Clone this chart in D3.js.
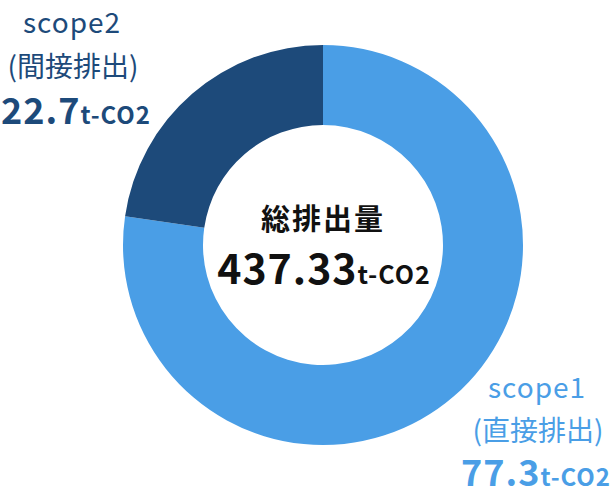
<!DOCTYPE html>
<html>
<head>
<meta charset="utf-8">
<script src="https://cdn.jsdelivr.net/npm/d3@7"></script>
<style>
  body { margin: 0; background: #fff; }
  text { font-family: "Noto Sans CJK JP", "Noto Sans", sans-serif; }
</style>
</head>
<body>
<svg id="chart" width="616" height="500"></svg>
<script>
// data
let scopeNames = ['scope1', 'scope2'];
let scopeKinds = ['(直接排出)', '(間接排出)'];
let scopeValues = [77.3, 22.7];
let scopeColors = ['#4a9ee6', '#1d4a7a'];
let totalLabel = '総排出量';
let totalValue = '437.33';
let unit = 't-CO2';

let cx = 323, cy = 245;
let outerR = 200, innerR = 120;

let svg = d3.select('#chart');

let pie = d3.pie().sort(null).value(d => d);
let arc = d3.arc().innerRadius(innerR).outerRadius(outerR);

let g = svg.append('g')
  .attr('transform', 'translate(' + cx + ',' + cy + ')');

g.selectAll('path')
  .data(pie(scopeValues))
  .enter()
  .append('path')
  .attr('d', arc)
  .attr('fill', (d, i) => scopeColors[i]);

// center label
g.append('text')
  .attr('x', 0)
  .attr('y', -15)
  .attr('text-anchor', 'middle')
  .attr('font-size', 29)
  .attr('font-weight', 'bold')
  .attr('letter-spacing', 2)
  .attr('fill', '#111')
  .text(totalLabel);

let tot = g.append('text')
  .attr('x', 1)
  .attr('y', 39)
  .attr('text-anchor', 'middle')
  .attr('font-weight', 'bold')
  .attr('fill', '#111');
tot.append('tspan').attr('font-size', 41).attr('letter-spacing', 1).text(totalValue);
tot.append('tspan').attr('font-size', 25).attr('letter-spacing', 1).text(unit);

// side labels (x, first baseline, second line, value line)
let labelPos = [[537, 398, 441, 486], [72, 33, 77, 124]];
let valueShift = [-1, 4];

scopeNames.forEach(function (name, i) {
  let p = labelPos[i];
  let lx = p[0];
  let lab = svg.append('g').attr('fill', scopeColors[i]);
  lab.append('text')
    .attr('x', lx).attr('y', p[1])
    .attr('text-anchor', 'middle')
    .attr('font-size', 28)
    .attr('letter-spacing', 1)
    .text(name);
  lab.append('text')
    .attr('x', lx + 1).attr('y', p[2])
    .attr('text-anchor', 'middle')
    .attr('font-size', 28)
    .text(scopeKinds[i]);
  let v = lab.append('text')
    .attr('x', lx + valueShift[i]).attr('y', p[3])
    .attr('text-anchor', 'middle')
    .attr('font-weight', 'bold');
  v.append('tspan').attr('font-size', 36).attr('letter-spacing', 1).text(scopeValues[i].toFixed(1));
  v.append('tspan').attr('font-size', 24).attr('letter-spacing', 1).text(unit);
});
</script>
</body>
</html>
